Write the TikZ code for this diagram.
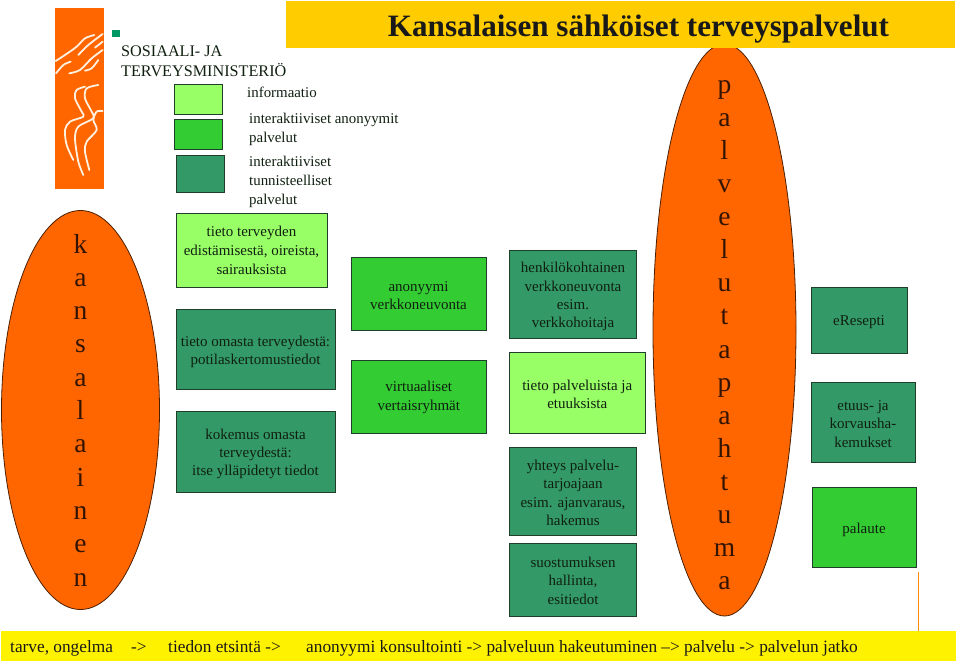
\documentclass[tikz,border=0pt]{standalone}
\usepackage{fontspec}
\setmainfont{Liberation Serif}
\usetikzlibrary{shapes.geometric}
\definecolor{org}{HTML}{FF6600}
\definecolor{gold}{HTML}{FFCC00}
\definecolor{lg}{HTML}{99FF66}
\definecolor{mg}{HTML}{33CC33}
\definecolor{dg}{HTML}{339966}
\definecolor{txt}{HTML}{102010}
\definecolor{edgec}{HTML}{1F3F2A}
\tikzset{
  bx/.style={draw=edgec,line width=0.8pt,align=center,inner sep=0pt,outer sep=0pt,text=txt,font=\fontsize{15}{18.3}\selectfont},
  lgb/.style={bx,fill=lg},
  mgb/.style={bx,fill=mg},
  dgb/.style={bx,fill=dg},
  lab/.style={anchor=west,align=left,inner sep=0pt,text=txt,font=\fontsize{14.9}{19}\selectfont},
  ell/.style={draw=black!70!org,line width=0.8pt,fill=org,ellipse,inner sep=0pt,outer sep=0pt},
  let/.style={inner sep=0pt,anchor=base,text=black!80!org,font=\fontsize{27.5}{30}\selectfont},
  swirl/.style={draw=white!88!orange,line cap=round,line join=round,line width=1.8pt},
  foottext/.style={anchor=base west,inner sep=0pt,font=\fontsize{17.3}{20}\selectfont,text=black!90}
}
\newcommand{\rbox}[7][]{\node[#2,minimum width={(#5-#3)*1pt},minimum height={(#6-#4)*1pt},#1] (#7) at ({(#3+#5)/2},{(#4+#6)/2})}
\newcommand{\dn}[1]{\rule{0pt}{#1pt}}
\begin{document}
\begin{tikzpicture}[x=1pt,y=-1pt]
\useasboundingbox (0,0) rectangle (959,662);
% ellipses
\node[ell,minimum width=158pt,minimum height=399pt] (e1) at (80.5,410) {};
\node[ell,minimum width=143pt,minimum height=572pt] (e2) at (724.5,330) {};
% banners
\node[fill=gold,minimum width=669pt,minimum height=47pt,inner sep=0pt,outer sep=0pt,anchor=north west] (title) at (285.5,1) {};
\node[inner sep=0pt,anchor=base,font=\bfseries\fontsize{31.1}{33}\selectfont,text=black!90] (titlet) at (638.5,36) {Kansalaisen sähköiset terveyspalvelut};
\node[fill=yellow,minimum width=955pt,minimum height=30pt,inner sep=0pt,outer sep=0pt,anchor=north west] (foot) at (1,631) {};
\coordinate (ln1) at (918.5,572);
\coordinate (ln2) at (918.5,631);
\draw[draw=org!75!yellow,line width=0.9pt] (ln1) -- (ln2);
\node[foottext] (ft1) at (10,652) {tarve, ongelma};
\node[foottext] (ft2) at (131,652) {->};
\node[foottext] (ft3) at (168,652) {tiedon etsintä ->};
\node[foottext] (ft4) at (306,652) {anonyymi konsultointi -> palveluun hakeutuminen --> palvelu -> palvelun jatko};
% logo
\node[fill=org,minimum width=49pt,minimum height=181pt,inner sep=0pt,outer sep=0pt,anchor=north west] (logo) at (55,8) {};
\begin{scope}[shift={(50,5)},x=0.3333pt,y=-0.3333pt]
\draw[swirl] plot[smooth] coordinates {(17,168)(45,150)(80,125)(105,100)(133,90)};
\draw[swirl] plot[smooth] coordinates {(85,150)(115,120)(158,87)};
\draw[swirl] plot[smooth] coordinates {(135,128)(158,110)};
\draw[swirl] plot[smooth] coordinates {(18,205)(40,180)(62,170)};
\draw[swirl] plot[smooth] coordinates {(58,205)(90,195)(125,160)(158,135)};
\draw[swirl] plot[smooth] coordinates {(105,197)(125,190)(145,165)};
\draw[swirl] plot[smooth] coordinates {(105,245)(80,255)(75,280)(95,320)(100,335)(60,350)(45,375)(50,420)(70,465)};
\draw[swirl] plot[smooth] coordinates {(145,240)(110,250)(105,280)(125,320)(130,340)(85,365)(75,400)(85,470)(100,510)};
\draw[swirl] plot[smooth] coordinates {(158,318)(140,320)(130,345)(140,375)(110,410)(105,440)(118,495)};
\end{scope}
% bullet
\node[fill=teal!80!green,minimum size=7.5pt,inner sep=0pt] (bul) at (116,33.5) {};
\node[anchor=west,align=left,inner sep=0pt,text=txt,font=\fontsize{16.2}{20}\selectfont] (stm) at (121,61.5) {SOSIAALI- JA\\TERVEYSMINISTERIÖ};
% legend
\rbox{lgb}{174.5}{84}{222.5}{114}{k1} {};
\rbox{mgb}{174.5}{119}{222.5}{149}{k2} {};
\rbox{dgb}{176}{155}{224}{192}{k3} {};
\node[lab] (l1) at (247,92) {informaatio};
\node[lab] (l2) at (249,129) {interaktiiviset anonyymit\\palvelut};
\node[lab] (l3) at (249,182) {interaktiiviset\\tunnisteelliset\\palvelut};
% letters
\foreach \c [count=\i from 0] in {k,a,n,s,a,l,a,i,n,e,n}
  \node[let] (a\i) at (80.5,{253+\i*33.3}) {\c};
\foreach \c [count=\i from 0] in {p,a,l,v,e,l,u,t,a,p,a,h,t,u,m,a}
  \node[let] (b\i) at (724.5,{93+\i*33.13}) {\c};
% left column
\rbox[font=\fontsize{15}{19}\selectfont]{lgb}{176}{213.5}{327}{287}{c1} {tieto terveyden\\edistämisestä, oireista,\\sairauksista};
\rbox{dgb}{176}{309}{335}{389}{c2} {\dn{15.5}tieto omasta terveydestä:\\potilaskertomustiedot};
\rbox{dgb}{176}{411}{335}{492}{c3} {\dn{15.5}kokemus omasta\\terveydestä:\\itse ylläpidetyt tiedot};
% middle
\rbox{mgb}{351}{257.5}{486}{330.5}{m1} {\dn{12.5}anonyymi\\verkkoneuvonta};
\rbox{mgb}{351}{360}{486.5}{433}{m2} {\dn{12.5}virtuaaliset\\vertaisryhmät};
% right col
\rbox{dgb}{509.5}{250}{636.5}{338}{r1} {\dn{15.5}henkilökohtainen\\verkkoneuvonta\\esim.\\verkkohoitaja};
\rbox{lgb}{509.5}{352.5}{645}{433.5}{r2} {\dn{13.5}tieto palveluista ja\\etuuksista};
\rbox{dgb}{509.5}{447.5}{636.5}{535.5}{r3} {\dn{13}yhteys palvelu-\\tarjoajaan\\esim. ajanvaraus,\\hakemus};
\rbox{dgb}{509.5}{543}{636.5}{616.5}{r4} {\dn{12.5}suostumuksen\\hallinta,\\esitiedot};
% far right
\rbox{dgb}{811}{287}{907}{353}{f1} {\dn{14}eResepti};
\rbox{dgb}{811}{382}{915}{462}{f2} {\dn{14}etuus- ja\\korvausha-\\kemukset};
\rbox{mgb}{812}{487}{916}{567}{f3} {\dn{16}palaute};
\end{tikzpicture}
\end{document}
